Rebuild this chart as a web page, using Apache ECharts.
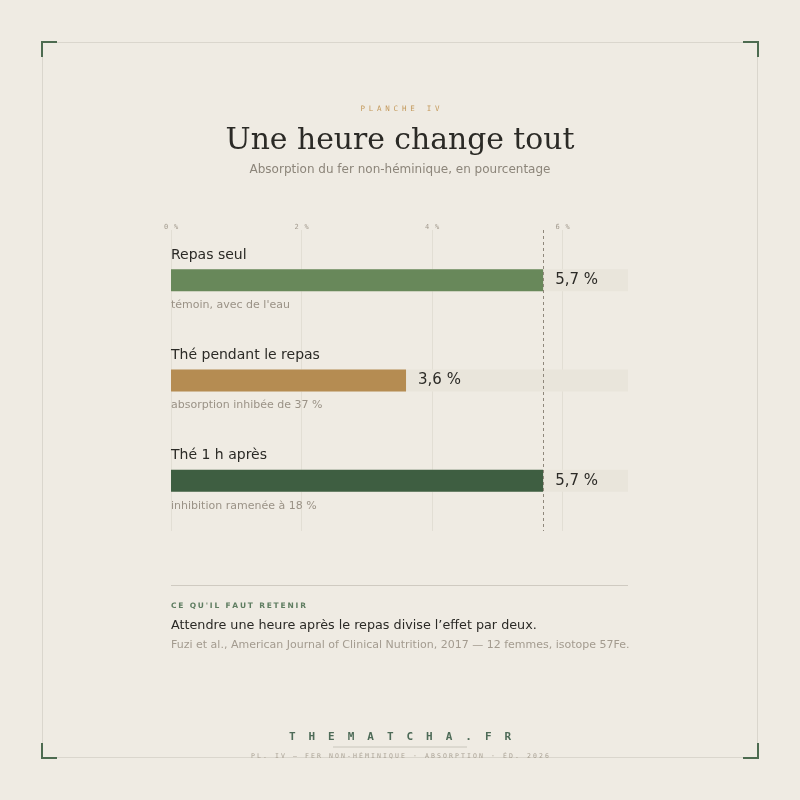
<!DOCTYPE html>
<html><head><meta charset="utf-8">
<script src="https://cdn.jsdelivr.net/npm/echarts@6/dist/echarts.min.js"></script>
<style>html,body{margin:0;padding:0;background:#efebe3}#c{width:800px;height:800px}</style>
</head><body><div id="c"></div>
<script>
// ---- data ----
const categories = ['Repas seul', 'Thé pendant le repas', 'Thé 1 h après'];
const values = [5.7, 3.6, 5.7];
const notes = ["témoin, avec de l'eau", 'absorption inhibée de 37 %', 'inhibition ramenée à 18 %'];
const barColors = ['#68885a', '#b58c52', '#3e5e41'];
const referenceValue = 5.7;
const axisTicks = [0, 2, 4, 6];
const axisMax = 7;

const BG = '#efebe3';
const INK = '#2b2a26';
const MUTED = '#8c857a';
const LIGHT = '#a39b8f';
const MONO = 'DejaVu Sans Mono';
const SANS = 'DejaVu Sans';

function spaced(str, key) {
  return str.split('').map(ch => '{' + key + '|' + (ch === ' ' ? '\u00a0' : ch) + '}').join('');
}
// proportional letter-spacing via per-glyph rich tokens
const mctx = document.createElement('canvas').getContext('2d');
function letterSpaced(str, fontSize, fontWeight, family, spacing, fill) {
  mctx.font = fontWeight + ' ' + fontSize + 'px "' + family + '"';
  const rich = {};
  let text = '';
  str.split('').forEach((ch, i) => {
    const c = ch === ' ' ? '\u00a0' : ch;
    const key = 'k' + i;
    rich[key] = {fontFamily: family, fontSize: fontSize, fontWeight: fontWeight, fill: fill,
                 width: mctx.measureText(c).width + spacing};
    text += '{' + key + '|' + c + '}';
  });
  return {text, rich};
}
function fmt(v) { return v.toFixed(1).replace('.', ',') + ' %'; }

const retenir = letterSpaced("CE QU'IL FAUT RETENIR", 7.5, 'bold', SANS, 1.8, '#5f7d61');

const chart = echarts.init(document.getElementById('c'), null, {renderer: 'canvas'});

const option = {
  backgroundColor: BG,
  animation: false,
  grid: {left: 171, right: 172, top: 230, height: 301, containLabel: false},
  xAxis: {
    type: 'value', position: 'top', min: 0, max: axisMax, interval: 2,
    axisLine: {show: false}, axisTick: {show: false}, splitLine: {show: false},
    axisLabel: {
      margin: -1, showMaxLabel: false,
      formatter: v => axisTicks.indexOf(v) >= 0 ? spaced(v + ' %', 'c') : '',
      rich: {c: {fontFamily: MONO, fontSize: 7, width: 5, color: LIGHT}}
    }
  },
  yAxis: {
    type: 'category', inverse: true, data: categories,
    axisLine: {show: false}, axisTick: {show: false}, splitLine: {show: false},
    axisLabel: {
      inside: true, margin: 0, align: 'left',
      formatter: (value, idx) => '{t|' + value + '}\n{g|\u00a0}\n{s|' + notes[idx] + '}',
      rich: {
        t: {fontFamily: SANS, fontSize: 14, color: INK, lineHeight: 20, align: 'left'},
        g: {fontSize: 4, lineHeight: 30, align: 'left'},
        s: {fontFamily: SANS, fontSize: 11, color: '#9a9286', lineHeight: 20, align: 'left'}
      }
    }
  },
  series: [
    {
      type: 'line', data: [], z: 0, silent: true,
      markLine: {
        z: 0, silent: true, symbol: ['none', 'none'], label: {show: false},
        lineStyle: {color: '#e2ded4', type: 'solid', width: 1},
        data: axisTicks.map(t => ({xAxis: t}))
      }
    },
    {
      type: 'bar', z: 2, barWidth: 22,
      showBackground: true,
      backgroundStyle: {color: '#e9e5db'},
      data: values.map((v, i) => ({value: v, itemStyle: {color: barColors[i]}})),
      label: {
        show: true, position: 'right', distance: 12,
        formatter: p => fmt(p.value),
        fontFamily: SANS, fontSize: 15, color: INK
      },
      markLine: {
        z: 5, silent: true, symbol: ['none', 'none'], label: {show: false},
        lineStyle: {color: '#8f877b', type: [3, 3], width: 1},
        data: [{xAxis: referenceValue}]
      }
    }
  ],
  graphic: [
    {type: 'rect', silent: true, shape: {x: 42.5, y: 42.5, width: 715, height: 715},
     style: {fill: 'none', stroke: '#dad6cd', lineWidth: 1}, z: 0},
    {type: 'polyline', shape: {points: [[42, 57], [42, 42], [57, 42]]}, style: {stroke: '#4d6b50', lineWidth: 2, fill: 'none'}},
    {type: 'polyline', shape: {points: [[743, 42], [758, 42], [758, 57]]}, style: {stroke: '#4d6b50', lineWidth: 2, fill: 'none'}},
    {type: 'polyline', shape: {points: [[42, 743], [42, 758], [57, 758]]}, style: {stroke: '#4d6b50', lineWidth: 2, fill: 'none'}},
    {type: 'polyline', shape: {points: [[743, 758], [758, 758], [758, 743]]}, style: {stroke: '#4d6b50', lineWidth: 2, fill: 'none'}},

    {type: 'text', x: 400, y: 109, style: {text: spaced('PLANCHE IV', 'p'), align: 'center', verticalAlign: 'middle',
      rich: {p: {fontFamily: MONO, fontSize: 7.5, width: 8.3, fill: '#c49a5c'}}}},
    {type: 'text', x: 400, y: 141, style: {text: 'Une heure change tout', align: 'center', verticalAlign: 'middle',
      fontFamily: 'DejaVu Serif', fontSize: 29.8, fill: INK}},
    {type: 'text', x: 400, y: 170, style: {text: 'Absorption du fer non-héminique, en pourcentage', align: 'center', verticalAlign: 'middle',
      fontFamily: SANS, fontSize: 12, fill: MUTED}},

    {type: 'line', shape: {x1: 171, y1: 585.5, x2: 628, y2: 585.5}, style: {stroke: '#cfcac1', lineWidth: 1}},
    {type: 'text', x: 171, y: 606, style: {text: retenir.text, rich: retenir.rich, align: 'left', verticalAlign: 'middle'}},
    {type: 'text', x: 171, y: 626, style: {text: 'Attendre une heure après le repas divise l\u2019effet par deux.', align: 'left', verticalAlign: 'middle',
      fontFamily: SANS, fontSize: 12.75, fill: INK}},
    {type: 'text', x: 171, y: 645, style: {text: 'Fuzi et al., American Journal of Clinical Nutrition, 2017 \u2014 12 femmes, isotope 57Fe.', align: 'left', verticalAlign: 'middle',
      fontFamily: SANS, fontSize: 11, fill: LIGHT}},

    {type: 'text', x: 400, y: 737, style: {text: spaced('THEMATCHA.FR', 'b'), align: 'center', verticalAlign: 'middle',
      rich: {b: {fontFamily: MONO, fontSize: 11, fontWeight: 'bold', width: 19.6, fill: '#4e6b58'}}}},
    {type: 'line', shape: {x1: 333, y1: 747, x2: 467, y2: 747}, style: {stroke: '#c9c6bc', lineWidth: 1}},
    {type: 'text', x: 400, y: 756, style: {text: spaced('PL. IV \u2014 FER NON-HÉMINIQUE \u00b7 ABSORPTION \u00b7 ÉD. 2026', 'f'), align: 'center', verticalAlign: 'middle',
      rich: {f: {fontFamily: MONO, fontSize: 6.5, width: 6, fill: '#aaa295'}}}}
  ]
};
chart.setOption(option);
</script>
</body></html>
